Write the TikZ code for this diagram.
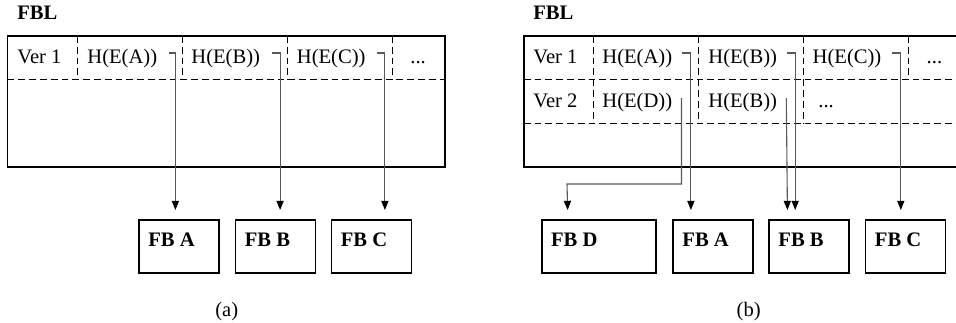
\documentclass[tikz,border=0pt]{standalone}
\usepackage{fontspec}
\setmainfont{Liberation Serif}
\usetikzlibrary{arrows.meta}

\newcommand{\figfont}{\fontsize{10.3pt}{12pt}\selectfont}

\tikzset{
  cell/.style={anchor=base west, inner sep=0pt, font=\figfont},
  title/.style={anchor=base west, inner sep=0pt, font=\figfont\bfseries},
  fbbox/.style={draw, line width=0.9pt, anchor=north west, minimum width=40pt, minimum height=26.4pt, inner sep=0pt},
  fblabel/.style={anchor=west, inner sep=0pt, font=\figfont\bfseries},
  sep/.style={dash pattern=on 3.4pt off 2pt, line width=0.45pt},
  conn/.style={draw=black!65, line width=0.55pt, -{Triangle[length=4.6pt,width=3.6pt,color=black]}, shorten >=4.65pt},
}

\begin{document}
\begin{tikzpicture}[x=0.5pt,y=-0.5pt]
\useasboundingbox (0,0) rectangle (956,322);

% (a) ONE VERSION

\node[title] (fblA) at (17,19) {FBL};
\draw[line width=0.9pt] (7.5,36) rectangle (445,167);
\draw[sep] (7.5,79.5) -- (445,79.5);
\foreach \x in {77.7,182.7,287.3,392.7}
  \draw[sep] (\x,36) -- (\x,79.5);

\node[cell] (verA) at (17,63) {Ver 1};
\node[cell] (haA) at (87,63) {H(E(A))};
\node[cell] (hbA) at (191,63) {H(E(B))};
\node[cell] (hcA) at (296.5,63) {H(E(C))};
\node[cell] (dotsA) at (410,63) {...};

\node[fbbox] (fbA) at (138,219.3) {};
\node[fbbox] (fbB) at (234.5,219.3) {};
\node[fbbox] (fbC) at (330.5,219.3) {};
\node[fblabel] at ([xshift=5pt,yshift=-10pt]fbA.north west) {FB A};
\node[fblabel] at ([xshift=5pt,yshift=-10pt]fbB.north west) {FB B};
\node[fblabel] at ([xshift=5pt,yshift=-10pt]fbC.north west) {FB C};

\coordinate (sa) at (169,53);
\coordinate (sb) at (272,53);
\coordinate (sc) at (377,53);
\draw[conn] (sa) -| ([xshift=-1.75pt]fbA.north);
\draw[conn] (sb) -| ([xshift=2.35pt]fbB.north);
\draw[conn] (sc) -| ([xshift=6.75pt]fbC.north);

\node[cell, anchor=base] (capA) at (226.7,316) {(a)};

% (b) TWO VERSIONS

\node[title] (fblB) at (533,19) {FBL};
\draw[line width=0.9pt] (523.7,36) rectangle (964,167);
\draw[sep] (523.7,79.5) -- (958,79.5);
\draw[sep] (523.7,123.3) -- (958,123.3);
\foreach \x in {593.7,698.7,803.7,908.7}
  \draw[sep] (\x,36) -- (\x,79.5);
\foreach \x in {593.7,698.7,803.7}
  \draw[sep] (\x,79.5) -- (\x,123.3);

\node[cell] (ver1) at (533,63) {Ver 1};
\node[cell] (ha1) at (602,63) {H(E(A))};
\node[cell] (hb1) at (708,63) {H(E(B))};
\node[cell] (hc1) at (812.3,63) {H(E(C))};
\node[cell] (dots1) at (926.3,63) {...};
\node[cell] (ver2) at (533,107) {Ver 2};
\node[cell] (hd2) at (602,107) {H(E(D))};
\node[cell] (hb2) at (708,107) {H(E(B))};
\node[cell] (dots2) at (818,107) {...};

\node[fbbox, minimum width=57pt] (fbD) at (540.7,219.3) {};
\node[fbbox] (fbA2) at (672,219.3) {};
\node[fbbox] (fbB2) at (768,219.3) {};
\node[fbbox] (fbC2) at (864.5,219.3) {};
\node[fblabel] at ([xshift=5pt,yshift=-10pt]fbD.north west) {FB D};
\node[fblabel] at ([xshift=5pt,yshift=-10pt]fbA2.north west) {FB A};
\node[fblabel] at ([xshift=5pt,yshift=-10pt]fbB2.north west) {FB B};
\node[fblabel] at ([xshift=5pt,yshift=-10pt]fbC2.north west) {FB C};

\coordinate (sa1) at (682,53);
\coordinate (sb1) at (787,53);
\coordinate (sc1) at (892.3,53);
\coordinate (sd2) at (681.5,98);
\coordinate (sb2) at (786.3,98);
\coordinate (bendD) at (567,184);
\draw[conn] (sa1) -| ([xshift=-11pt]fbA2.north);
\draw[conn] (sb1) -| ([xshift=-6.85pt]fbB2.north);
\draw[conn] (sc1) -| ([xshift=-2.3pt]fbC2.north);
\draw[conn] (sd2) |- (bendD) -- ([xshift=-15.35pt]fbD.north);
\draw[conn] (sb2) -- ([xshift=-10.7pt]fbB2.north);

\node[cell, anchor=base] (capB) at (748.7,316) {(b)};

\end{tikzpicture}
\end{document}
